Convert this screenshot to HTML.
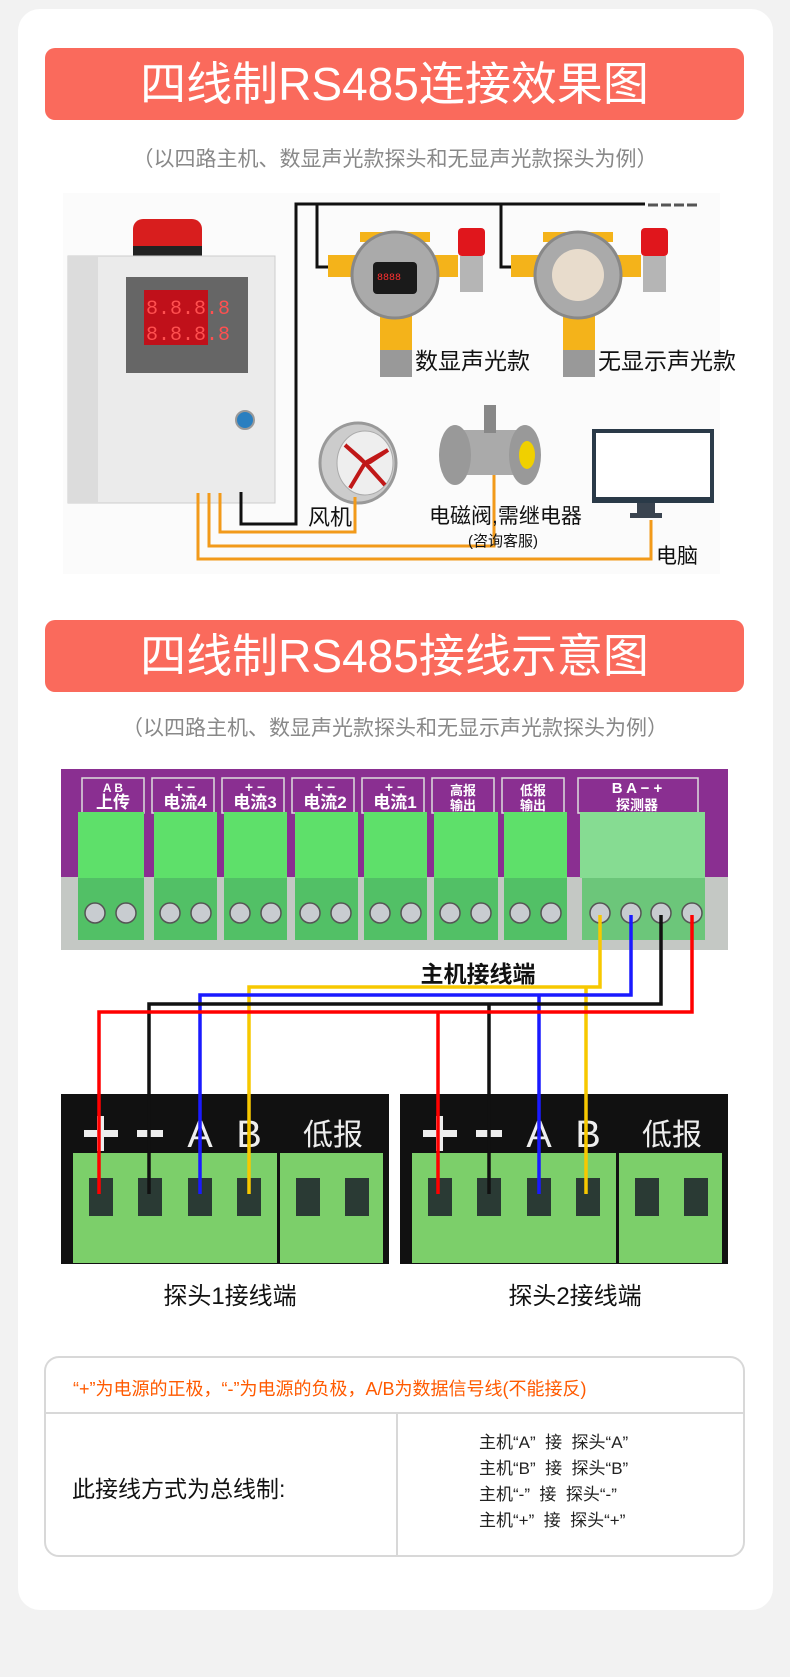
<!DOCTYPE html>
<html><head><meta charset="utf-8"><style>
*{margin:0;padding:0;box-sizing:border-box}
body{width:790px;height:1677px;background:#f2f2f2;position:relative;overflow:hidden;font-family:"Liberation Sans","Noto Sans CJK SC",sans-serif}
.card{position:absolute;left:18px;top:9px;width:755px;height:1601px;background:#fff;border-radius:22px}
.ban{position:absolute;left:45px;width:699px;height:72px;background:#fa6a5c;border-radius:10px;color:#fff;font-size:46px;text-align:center;line-height:72px;letter-spacing:0px}
.sub{position:absolute;left:0;width:790px;text-align:center;color:#888;font-size:21px}
.t{position:absolute;white-space:nowrap}
svg{position:absolute;left:0;top:0}
</style></head><body>
<div class="card"></div>
<div class="ban" style="top:48px">四线制RS485连接效果图</div>
<div class="sub" style="top:143px">（以四路主机、数显声光款探头和无显声光款探头为例）</div>
<div class="ban" style="top:620px">四线制RS485接线示意图</div>
<div class="sub" style="top:712px">（以四路主机、数显声光款探头和无显示声光款探头为例）</div>

<svg width="790" height="1677" viewBox="0 0 790 1677">
<rect x="63" y="193" width="657" height="381" fill="#fbfbfb"/>
<rect x="133" y="219" width="69" height="37" rx="10" fill="#d81e1e"/>
<rect x="133" y="246" width="69" height="10" fill="#222"/>
<rect x="68" y="256" width="207" height="247" fill="#ebebeb" stroke="#ccc"/>
<rect x="68" y="256" width="30" height="247" fill="#dcdcdc"/>
<rect x="126" y="277" width="122" height="96" fill="#666"/>
<rect x="144" y="290" width="64" height="55" fill="#c0101a"/>
<text x="146" y="314" font-size="20" fill="#ff5050" font-family="Liberation Mono">8.8.8.8</text>
<text x="146" y="340" font-size="20" fill="#ff5050" font-family="Liberation Mono">8.8.8.8</text>
<circle cx="245" cy="420" r="9" fill="#2a7fc0" stroke="#999" stroke-width="2"/>
<g stroke="#111" stroke-width="3" fill="none">
<polyline points="241,492 241,524 296,524 296,204 645,204"/>
<polyline points="317,204 317,267 330,267"/>
<polyline points="501,204 501,267 514,267"/>
</g>
<g stroke="#555" stroke-width="3"><line x1="648" y1="205" x2="658" y2="205"/><line x1="661" y1="205" x2="671" y2="205"/><line x1="674" y1="205" x2="684" y2="205"/><line x1="687" y1="205" x2="697" y2="205"/></g>
<g>
<rect x="328" y="255" width="130" height="22" fill="#f4b31a"/>
<rect x="380" y="315" width="32" height="35" fill="#f4b31a"/>
<rect x="380" y="350" width="32" height="27" fill="#999"/>
<rect x="360" y="232" width="70" height="10" fill="#f4b31a"/>
<circle cx="395" cy="275" r="43" fill="#aaa" stroke="#888" stroke-width="3"/>
<rect x="458" y="228" width="27" height="28" rx="4" fill="#e0161c"/>
<rect x="460" y="256" width="23" height="36" fill="#b5b5b5"/>
</g>
<rect x="373" y="262" width="44" height="32" rx="4" fill="#1a1a1a"/>
<text x="377" y="280" font-size="10" fill="#ff3030" font-family="Liberation Mono">8888</text>
<g transform="translate(183,0)">
<rect x="328" y="255" width="130" height="22" fill="#f4b31a"/>
<rect x="380" y="315" width="32" height="35" fill="#f4b31a"/>
<rect x="380" y="350" width="32" height="27" fill="#999"/>
<rect x="360" y="232" width="70" height="10" fill="#f4b31a"/>
<circle cx="395" cy="275" r="43" fill="#aaa" stroke="#888" stroke-width="3"/>
<circle cx="395" cy="275" r="26" fill="#e8dccc"/>
<rect x="458" y="228" width="27" height="28" rx="4" fill="#e0161c"/>
<rect x="460" y="256" width="23" height="36" fill="#b5b5b5"/>
</g>
<ellipse cx="358" cy="463" rx="38" ry="40" fill="#ccc" stroke="#999" stroke-width="3"/>
<ellipse cx="365" cy="463" rx="28" ry="32" fill="#eee" stroke="#aaa"/>
<path d="M365 463 L345 445 L360 458 Z M365 463 L388 450 L370 462 Z M365 463 L350 488 L362 468 Z M365 463 L385 485 L368 466 Z" fill="#d0202a" stroke="#c01818" stroke-width="4"/>
<rect x="450" y="430" width="80" height="45" rx="10" fill="#aaa"/>
<ellipse cx="455" cy="455" rx="16" ry="30" fill="#999"/>
<ellipse cx="525" cy="455" rx="16" ry="30" fill="#999"/>
<ellipse cx="527" cy="455" rx="8" ry="14" fill="#f0d000"/>
<rect x="484" y="405" width="12" height="28" fill="#888"/>
<rect x="592" y="429" width="122" height="74" fill="#2a3a48"/>
<rect x="596" y="433" width="114" height="64" fill="#fff"/>
<rect x="637" y="503" width="18" height="10" fill="#3a4450"/>
<rect x="630" y="513" width="32" height="5" fill="#3a4450"/>
<g stroke="#f29a1a" stroke-width="3" fill="none">
<polyline points="220,493 220,532 355,532 355,497"/>
<polyline points="209,493 209,546 494,546 494,475"/>
<polyline points="198,493 198,559 651,559 651,520"/>
</g>
<rect x="61" y="769" width="667" height="108" fill="#8a2f91"/>
<rect x="61" y="877" width="667" height="73" fill="#c4c8c4"/>
</svg>

<svg width="790" height="1677" viewBox="0 0 790 1677">
<g font-family="Liberation Sans,Noto Sans CJK SC,sans-serif" font-weight="bold">
<g fill="none" stroke="#ddd" stroke-width="1.5">
<rect x="82" y="778" width="62" height="35"/><rect x="152" y="778" width="62" height="35"/><rect x="222" y="778" width="62" height="35"/><rect x="292" y="778" width="62" height="35"/><rect x="362" y="778" width="62" height="35"/><rect x="432" y="778" width="62" height="35"/><rect x="502" y="778" width="62" height="35"/><rect x="578" y="778" width="120" height="35"/>
</g>
<g fill="#fff" font-size="17" text-anchor="middle">
<text x="113" y="808">上传</text><text x="185" y="808">电流4</text><text x="255" y="808">电流3</text><text x="325" y="808">电流2</text><text x="395" y="808">电流1</text>
<text x="463" y="795" font-size="13">高报</text><text x="463" y="810" font-size="13">输出</text>
<text x="533" y="795" font-size="13">低报</text><text x="533" y="810" font-size="13">输出</text>
<text x="637" y="810" font-size="14">探测器</text>
<text x="113" y="792" font-size="12">A  B</text>
<text x="185" y="792" font-size="14">+  −</text><text x="255" y="792" font-size="14">+  −</text><text x="325" y="792" font-size="14">+  −</text><text x="395" y="792" font-size="14">+  −</text>
<text x="637" y="793" font-size="15">B  A  −  +</text>
</g>
</g>
<g>
<g fill="#5ee06a"><rect x="78" y="812" width="66" height="66"/><rect x="154" y="812" width="63" height="66"/><rect x="224" y="812" width="63" height="66"/><rect x="295" y="812" width="63" height="66"/><rect x="364" y="812" width="63" height="66"/><rect x="434" y="812" width="64" height="66"/><rect x="504" y="812" width="63" height="66"/><rect x="580" y="812" width="125" height="66" fill="#86dc92"/></g>
<g fill="#52c066"><rect x="78" y="878" width="66" height="62"/><rect x="154" y="878" width="63" height="62"/><rect x="224" y="878" width="63" height="62"/><rect x="295" y="878" width="63" height="62"/><rect x="364" y="878" width="63" height="62"/><rect x="434" y="878" width="64" height="62"/><rect x="504" y="878" width="63" height="62"/><rect x="582" y="878" width="123" height="62" fill="#6cc67a"/></g>
<g fill="#c8ccd0" stroke="#555" stroke-width="1.5">
<circle cx="95" cy="913" r="10"/><circle cx="126" cy="913" r="10"/><circle cx="170" cy="913" r="10"/><circle cx="201" cy="913" r="10"/><circle cx="240" cy="913" r="10"/><circle cx="271" cy="913" r="10"/><circle cx="310" cy="913" r="10"/><circle cx="341" cy="913" r="10"/><circle cx="380" cy="913" r="10"/><circle cx="411" cy="913" r="10"/><circle cx="450" cy="913" r="10"/><circle cx="481" cy="913" r="10"/><circle cx="520" cy="913" r="10"/><circle cx="551" cy="913" r="10"/>
<circle cx="600" cy="913" r="10"/><circle cx="631" cy="913" r="10"/><circle cx="661" cy="913" r="10"/><circle cx="692" cy="913" r="10"/>
</g>
</g>
<rect x="61" y="1094" width="328" height="170" fill="#111"/>
<rect x="400" y="1094" width="328" height="170" fill="#111"/>
<g fill="#eee">
<rect x="84" y="1130" width="34" height="7"/><rect x="97" y="1116" width="7" height="35"/><rect x="137" y="1130" width="26" height="7"/>
<rect x="423" y="1130" width="34" height="7"/><rect x="436" y="1116" width="7" height="35"/><rect x="476" y="1130" width="26" height="7"/>
</g>
<g fill="#7ccf6a">
<rect x="73" y="1153" width="204" height="110"/><rect x="280" y="1153" width="103" height="110"/>
<rect x="412" y="1153" width="204" height="110"/><rect x="619" y="1153" width="103" height="110"/>
</g>
<g fill="#2a3a34">
<rect x="89" y="1178" width="24" height="38"/><rect x="138" y="1178" width="24" height="38"/><rect x="188" y="1178" width="24" height="38"/><rect x="237" y="1178" width="24" height="38"/><rect x="296" y="1178" width="24" height="38"/><rect x="345" y="1178" width="24" height="38"/>
<rect x="428" y="1178" width="24" height="38"/><rect x="477" y="1178" width="24" height="38"/><rect x="527" y="1178" width="24" height="38"/><rect x="576" y="1178" width="24" height="38"/><rect x="635" y="1178" width="24" height="38"/><rect x="684" y="1178" width="24" height="38"/>
</g>
<g fill="#eee" font-family="Liberation Sans,Noto Sans CJK SC,sans-serif" font-size="38" text-anchor="middle">
<text x="200" y="1147">A</text><text x="249" y="1147">B</text>
<text x="539" y="1147">A</text><text x="588" y="1147">B</text>
<text x="333" y="1145" font-size="30">低报</text><text x="672" y="1145" font-size="30">低报</text>
</g>
<g fill="none" stroke-width="3.5">
<polyline stroke="#f7c800" points="600,915 600,987 249,987 249,1194"/>
<polyline stroke="#f7c800" points="586,987 586,1194"/>
<polyline stroke="#1a1aff" points="631,915 631,995 200,995 200,1194"/>
<polyline stroke="#1a1aff" points="539,995 539,1194"/>
<polyline stroke="#111" points="661,915 661,1004 149,1004 149,1194"/>
<polyline stroke="#111" points="489,1004 489,1194"/>
<polyline stroke="#f00" points="692,915 692,1012 99,1012 99,1194"/>
<polyline stroke="#f00" points="438,1012 438,1194"/>
</g>
<rect x="45" y="1357" width="699" height="199" rx="14" fill="#fff" stroke="#d8d8d8" stroke-width="2"/>
<line x1="45" y1="1413" x2="744" y2="1413" stroke="#d8d8d8" stroke-width="2"/>
<line x1="397" y1="1413" x2="397" y2="1556" stroke="#d8d8d8" stroke-width="2"/>
</svg>

<div class="t" style="left:415px;top:342px;font-size:23px;color:#111">数显声光款</div>
<div class="t" style="left:598px;top:342px;font-size:23px;color:#111">无显示声光款</div>
<div class="t" style="left:308px;top:500px;font-size:22px;color:#111">风机</div>
<div class="t" style="left:429px;top:500px;font-size:21px;color:#111">电磁阀,需继电器</div>
<div class="t" style="left:468px;top:530px;font-size:15px;color:#111">(咨询客服)</div>
<div class="t" style="left:656px;top:540px;font-size:21px;color:#111">电脑</div>
<div class="t" style="left:478px;top:955px;transform:translateX(-50%);font-size:23px;color:#111;font-weight:bold">主机接线端</div>
<div class="t" style="left:230px;top:1276px;transform:translateX(-50%);font-size:24px;color:#111">探头1接线端</div>
<div class="t" style="left:575px;top:1276px;transform:translateX(-50%);font-size:24px;color:#111">探头2接线端</div>
<div class="t" style="left:73px;top:1375px;font-size:18px;color:#ff5a00">“+”为电源的正极，“-”为电源的负极，A/B为数据信号线(不能接反)</div>
<div class="t" style="left:72px;top:1470px;font-size:23px;color:#111">此接线方式为总线制:</div>
<div class="t" style="left:479px;top:1430px;font-size:17px;color:#222;line-height:26px">主机“A”&nbsp;&nbsp;接&nbsp;&nbsp;探头“A”<br>主机“B”&nbsp;&nbsp;接&nbsp;&nbsp;探头“B”<br>主机“-”&nbsp;&nbsp;接&nbsp;&nbsp;探头“-”<br>主机“+”&nbsp;&nbsp;接&nbsp;&nbsp;探头“+”</div>
</body></html>
